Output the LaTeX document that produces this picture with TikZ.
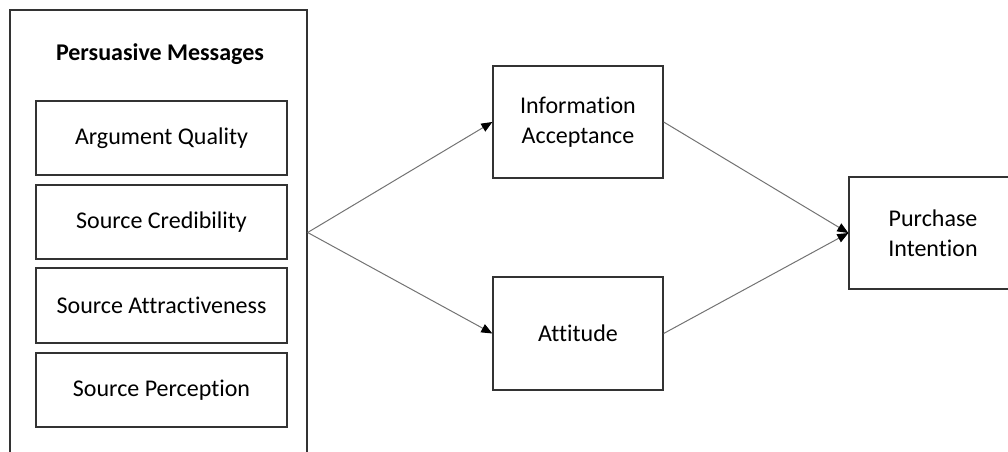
\documentclass[tikz,border=0pt]{standalone}
\usepackage{fontspec}
\setmainfont{Carlito}[Ligatures={NoCommon}]
\usetikzlibrary{arrows.meta}

\begin{document}
\begin{tikzpicture}[x=1pt, y=-1pt,
    box/.style={shape=rectangle, draw=black!80, line width=1.3pt, align=center, inner sep=0pt, font=\fontsize{24}{30}\selectfont},
    link/.style={draw=black!55, line width=1pt, -{Triangle[length=11pt, width=9pt, color=black]}}]
    \useasboundingbox (0,0) rectangle (1008,451);
    % persuasive messages block
    \node[box, minimum width=297pt, minimum height=445pt] at (158.5,232.5) (msgs) {};
    \node[font=\bfseries\fontsize{24}{28}\selectfont] at (160,54) (title) {Persuasive Messages};
    \node[box, minimum width=251pt, minimum height=74pt] at (161.5,138) (arg) {Argument Quality};
    \node[box, minimum width=251pt, minimum height=74pt] at (161.5,222) (cred) {Source Credibility};
    \node[box, minimum width=251pt, minimum height=75pt] at (161.5,305.5) (attr) {Source Attractiveness};
    \node[box, minimum width=251pt, minimum height=74pt] at (161.5,390) (perc) {Source Perception};
    % mediators and outcome
    \node[box, minimum width=170pt, minimum height=112pt] at (578,122) (IA) {Information\\Acceptance};
    \node[box, minimum width=170pt, minimum height=113pt] at (578,333.5) (att) {Attitude};
    \node[box, minimum width=168pt, minimum height=112pt] at (933,233) (PI) {Purchase\\Intention};
    \path [link] (msgs.east) -- (IA.west);
    \path [link] (msgs.east) -- (att.west);
    \path [link] (IA.east) -- (PI.west);
    \path [link] (att.east) -- (PI.west);
\end{tikzpicture}
\end{document}
